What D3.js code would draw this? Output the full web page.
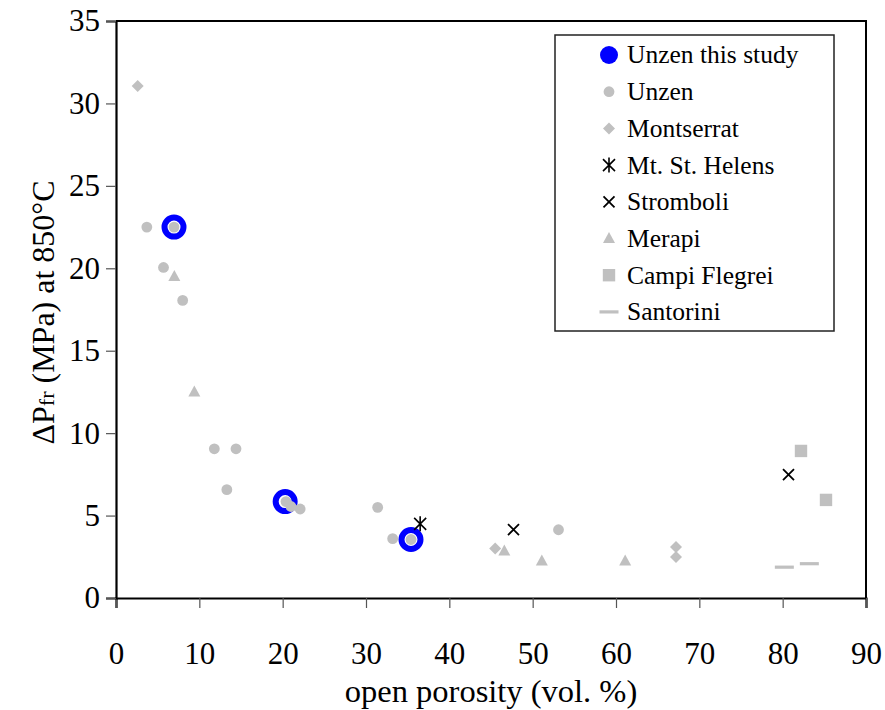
<!DOCTYPE html>
<html>
<head>
<meta charset="utf-8">
<script src="https://cdn.jsdelivr.net/npm/d3@7"></script>
<style>
  html, body { margin: 0; padding: 0; background: #fff; }
</style>
</head>
<body>
<svg id="chart" width="885" height="710" font-family="Liberation Serif"></svg>
<script>
// Open porosity (vol. %) vs. fragmentation threshold ΔPfr (MPa) at 850 °C
const unzenStudy   = [[6.96, 22.5], [20.3, 5.85], [35.4, 3.55]];
const unzen        = [[3.7, 22.5], [6.96, 22.5], [5.7, 20.05], [8.0, 18.05], [11.8, 9.05], [14.4, 9.05],
                      [13.3, 6.57], [20.4, 5.85], [21.0, 5.55], [22.1, 5.4], [31.4, 5.5], [33.2, 3.6],
                      [35.4, 3.55], [53.1, 4.14]];
const montserrat   = [[2.6, 31.05], [45.5, 3.0], [67.2, 3.1], [67.2, 2.48]];
const mtStHelens   = [[36.5, 4.5]];
const stromboli    = [[47.7, 4.15], [80.7, 7.48]];
const merapi       = [[7.0, 19.5], [9.4, 12.5], [46.6, 2.85], [51.1, 2.25], [61.1, 2.25]];
const campiFlegrei = [[82.2, 8.92], [85.2, 5.95]];
const santorini    = [[80.2, 1.87], [83.2, 2.08]];

const xTicks = [0, 10, 20, 30, 40, 50, 60, 70, 80, 90];
const yTicks = [0, 5, 10, 15, 20, 25, 30, 35];
const legendLabels = ["Unzen this study", "Unzen", "Montserrat", "Mt. St. Helens",
                      "Stromboli", "Merapi", "Campi Flegrei", "Santorini"];

const GRAY = "#c0c0c0", BLUE = "#0000ff";
const FONT = "Liberation Serif";
const svg = d3.select("#chart");
const plot = { left: 116, right: 866, top: 21, bottom: 598 };

const x = d3.scaleLinear().domain([0, 90]).range([plot.left, plot.right]);
const y = d3.scaleLinear().domain([0, 35]).range([plot.bottom, plot.top]);

// frame (top and right edges)
svg.append("path")
  .attr("d", `M${plot.left},${plot.top}H${plot.right}V${plot.bottom}`)
  .attr("fill", "none").attr("stroke", "#000").attr("stroke-width", 2);

// axes
const xAxis = svg.append("g").attr("transform", `translate(0,${plot.bottom})`)
  .call(d3.axisBottom(x).tickValues(xTicks).tickSize(10).tickPadding(46).tickFormat(d3.format("d")));
const yAxis = svg.append("g").attr("transform", `translate(${plot.left},0)`)
  .call(d3.axisLeft(y).tickValues(yTicks).tickSize(10).tickPadding(6).tickFormat(d3.format("d")));
[xAxis, yAxis].forEach(g => {
  g.attr("font-family", FONT).attr("font-size", 31);
  g.select(".domain").attr("stroke", "#000").attr("stroke-width", 2.2);
  g.selectAll(".tick line").attr("stroke", "#555").attr("stroke-width", 1.2);
  g.selectAll(".tick text").attr("fill", "#000");
});
xAxis.selectAll(".tick text").attr("dy", "0.32em");

// axis titles
svg.append("text").attr("x", (plot.left + plot.right) / 2).attr("y", 702)
  .attr("font-family", FONT).attr("font-size", 32.5)
  .attr("text-anchor", "middle").text("open porosity (vol. %)");
const yt = svg.append("text")
  .attr("font-family", FONT).attr("font-size", 32)
  .attr("transform", `translate(54,${(plot.top + plot.bottom) / 2 + 3}) rotate(-90)`)
  .attr("text-anchor", "middle");
yt.append("tspan").text("ΔP");
yt.append("tspan").attr("font-size", 22).text("fr");
yt.append("tspan").text(" (MPa) at 850°C");

// marker painters
const markers = {
  ring:    (g) => { g.append("circle").attr("r", 9.5).attr("fill", "#fff").attr("stroke", BLUE).attr("stroke-width", 6); },
  dot:     (g) => { g.append("circle").attr("r", 5.4).attr("fill", GRAY); },
  diamond: (g) => { g.append("path").attr("d", "M0,-6L6,0L0,6L-6,0Z").attr("fill", GRAY); },
  star:    (g) => { g.append("path").attr("d", "M-6,-6L6,6M-6,6L6,-6M0,-7.5V7.5").attr("stroke", "#000").attr("stroke-width", 1.6).attr("fill", "none"); },
  cross:   (g) => { g.append("path").attr("d", "M-5.5,-5.5L5.5,5.5M-5.5,5.5L5.5,-5.5").attr("stroke", "#000").attr("stroke-width", 1.8).attr("fill", "none"); },
  tri:     (g) => { g.append("path").attr("d", "M0,-6.5L6,4.5L-6,4.5Z").attr("fill", GRAY); },
  square:  (g) => { g.append("rect").attr("x", -6.2).attr("y", -6.2).attr("width", 12.4).attr("height", 12.4).attr("fill", GRAY); },
  dash:    (g) => { g.append("rect").attr("x", -9.5).attr("y", -1.6).attr("width", 19).attr("height", 3.2).attr("fill", GRAY); }
};

function drawSeries(data, kind) {
  svg.append("g").selectAll("g").data(data).join("g")
    .attr("transform", d => `translate(${x(d[0])},${y(d[1])})`)
    .each(function () { markers[kind](d3.select(this)); });
}

drawSeries(unzenStudy, "ring");
drawSeries(unzen, "dot");
drawSeries(montserrat, "diamond");
drawSeries(merapi, "tri");
drawSeries(campiFlegrei, "square");
drawSeries(santorini, "dash");
drawSeries(mtStHelens, "star");
drawSeries(stromboli, "cross");

// legend
const leg = svg.append("g").attr("font-family", FONT).attr("font-size", 25.5);
leg.append("rect").attr("x", 555).attr("y", 35).attr("width", 279).attr("height", 296)
  .attr("fill", "#fff").attr("stroke", "#222").attr("stroke-width", 1.5);
const legendKinds = ["blue", "dot", "diamond", "star", "cross", "tri", "square", "dash"];
legendLabels.forEach((label, i) => {
  const cy = 55 + i * 36.7;
  const g = leg.append("g").attr("transform", `translate(609,${cy})`);
  if (legendKinds[i] === "blue") g.append("circle").attr("r", 9).attr("fill", BLUE);
  else markers[legendKinds[i]](g);
  leg.append("text").attr("x", 627).attr("y", cy).attr("dy", "0.33em").text(label);
});
</script>
</body>
</html>
